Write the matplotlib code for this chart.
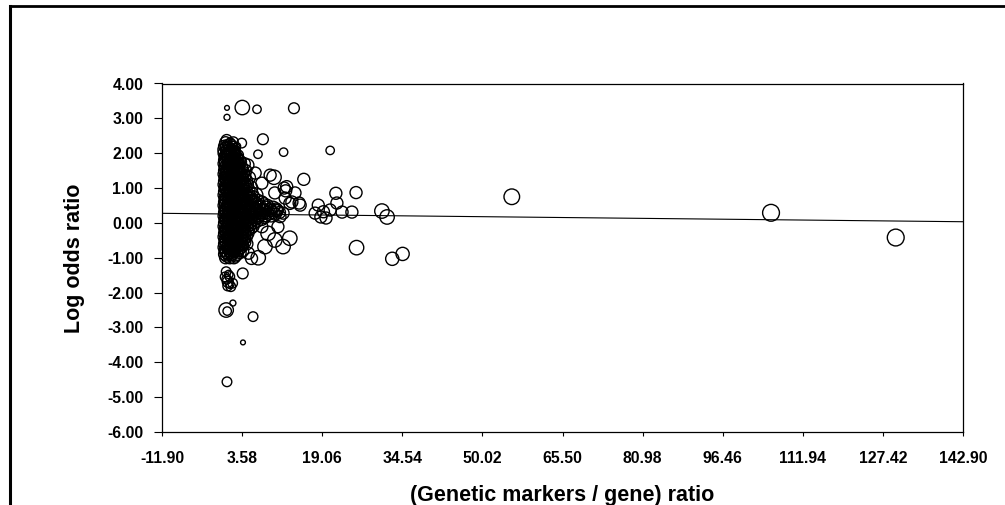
import numpy as np
import matplotlib
matplotlib.use("Agg")
import matplotlib.pyplot as plt
from matplotlib.lines import Line2D

plt.rcParams['font.family'] = ['Liberation Sans', 'DejaVu Sans']
plt.rcParams['font.weight'] = 'bold'

# dense core of studies, one row per log odds level
core_y = [2.30, 2.20, 2.10, 2.00, 1.90, 1.80, 1.70, 1.60, 1.50, 1.40, 1.30,
          1.20, 1.10, 1.00, 0.90, 0.80, 0.70, 0.60, 0.50, 0.40, 0.30, 0.20,
          0.10, 0.00, -0.10, -0.20, -0.30, -0.40, -0.50, -0.60, -0.70, -0.80,
          -0.90, -1.00]
core_x = [
    [0.4, 1.3],
    [0.2, 0.9, 1.8, 2.6],
    [0.3, 1.1, 2.0],
    [0.1, 0.8, 1.5, 2.3],
    [0.3, 1.0, 1.9, 2.8],
    [0.2, 0.9, 1.6, 2.4, 3.3],
    [0.1, 0.7, 1.4, 2.1, 2.9, 4.0],
    [0.3, 1.0, 1.8, 2.6, 3.5],
    [0.2, 0.8, 1.5, 2.3, 3.1, 4.3],
    [0.1, 0.9, 1.7, 2.5, 3.4],
    [0.3, 1.0, 1.8, 2.7, 3.6, 5.0],
    [0.2, 0.8, 1.5, 2.3, 3.2, 4.2],
    [0.1, 0.9, 1.7, 2.6, 3.5, 4.6],
    [0.3, 1.1, 1.9, 2.8, 3.8, 5.2],
    [0.2, 0.8, 1.6, 2.5, 3.4, 4.4],
    [0.1, 1.0, 1.8, 2.7, 3.7, 4.9, 6.2],
    [0.3, 1.1, 2.0, 2.9, 3.9, 5.3],
    [0.2, 0.9, 1.7, 2.6, 3.6, 4.7, 6.0, 7.4],
    [0.1, 0.8, 1.6, 2.5, 3.5, 4.5, 5.7, 7.0, 8.5],
    [0.3, 1.0, 1.9, 2.8, 3.8, 4.9, 6.2, 7.6, 9.0, 10.2],
    [0.2, 0.9, 1.7, 2.6, 3.6, 4.6, 5.8, 7.1, 8.4, 9.6, 10.8],
    [0.1, 0.8, 1.6, 2.5, 3.5, 4.5, 5.6, 6.8, 8.0, 9.2],
    [0.3, 1.1, 1.9, 2.8, 3.8, 4.9, 6.1, 7.4],
    [0.2, 0.9, 1.7, 2.6, 3.6, 4.7, 5.9],
    [0.1, 0.8, 1.6, 2.5, 3.5, 4.6, 5.7],
    [0.3, 1.0, 1.8, 2.7, 3.7, 4.8],
    [0.2, 0.9, 1.7, 2.6, 3.6, 4.7],
    [0.1, 0.8, 1.6, 2.5, 3.5, 4.4],
    [0.3, 1.0, 1.9, 2.8, 3.8],
    [0.2, 0.9, 1.7, 2.6, 3.6, 4.5],
    [0.1, 0.8, 1.6, 2.5, 3.4],
    [0.3, 1.1, 1.9, 2.8, 3.7],
    [0.2, 0.9, 1.7, 2.6],
    [0.4, 1.2, 2.0],
]
core_w = [
    [5, 4],
    [5, 4, 4, 3],
    [6, 5, 4],
    [5, 5, 4, 4],
    [5, 6, 4, 4],
    [5, 5, 5, 4, 4],
    [5, 4, 6, 5, 4, 5],
    [5, 5, 5, 5, 5],
    [5, 6, 4, 5, 5, 5],
    [5, 5, 5, 6, 5],
    [5, 5, 5, 5, 5, 5],
    [5, 6, 5, 5, 5, 6],
    [5, 5, 5, 5, 6, 5],
    [5, 5, 6, 5, 5, 6],
    [5, 5, 5, 5, 5, 5],
    [5, 5, 5, 6, 5, 5, 6],
    [5, 5, 5, 5, 5, 5],
    [5, 5, 5, 5, 5, 5, 5, 5],
    [5, 5, 6, 5, 5, 5, 5, 5, 5],
    [5, 5, 5, 5, 5, 5, 5, 5, 5, 5],
    [5, 5, 5, 5, 5, 6, 5, 5, 5, 5, 5],
    [5, 5, 5, 5, 5, 5, 5, 5, 5, 5],
    [5, 5, 5, 5, 5, 5, 5, 5],
    [5, 5, 5, 6, 5, 5, 5],
    [5, 5, 5, 5, 5, 5, 5],
    [5, 5, 5, 5, 5, 5],
    [5, 6, 5, 5, 5, 5],
    [5, 5, 5, 5, 5, 5],
    [5, 5, 5, 5, 5],
    [5, 5, 5, 5, 5, 5],
    [5, 5, 5, 5, 5],
    [5, 5, 5, 5, 5],
    [5, 5, 5, 5],
    [5, 5, 5],
]

# second layer of the core, between the rows above
core2_y = [2.25, 2.15, 2.05, 1.95, 1.85, 1.75, 1.65, 1.55, 1.45, 1.35, 1.25,
           1.15, 1.05, 0.95, 0.85, 0.75, 0.65, 0.55, 0.45, 0.35, 0.25, 0.15,
           0.05, -0.05, -0.15, -0.25, -0.35, -0.45, -0.55, -0.65, -0.75, -0.85,
           -0.95]
core2_x = [
    [0.7, 1.6],
    [0.5, 1.4, 2.3],
    [0.6, 1.3, 2.1],
    [0.5, 1.3, 2.1, 2.9],
    [0.6, 1.3, 2.0, 2.9],
    [0.4, 1.1, 1.8, 2.6, 3.5],
    [0.6, 1.4, 2.2, 3.0],
    [0.5, 1.2, 1.9, 2.7, 3.6],
    [0.5, 1.3, 2.1, 2.9, 3.8],
    [0.6, 1.4, 2.2, 3.1, 4.1],
    [0.5, 1.2, 2.0, 2.8, 3.7],
    [0.5, 1.3, 2.1, 3.0, 4.0],
    [0.6, 1.5, 2.3, 3.2, 4.3],
    [0.5, 1.2, 2.0, 2.9, 3.9, 4.9],
    [0.5, 1.4, 2.2, 3.1, 4.2, 5.5],
    [0.6, 1.5, 2.4, 3.4, 4.5, 5.8],
    [0.5, 1.3, 2.2, 3.1, 4.1, 5.3, 6.6],
    [0.4, 1.2, 2.0, 3.0, 4.0, 5.1, 6.4, 7.8],
    [0.6, 1.4, 2.3, 3.3, 4.3, 5.5, 6.8, 8.2, 9.6],
    [0.5, 1.3, 2.2, 3.1, 4.1, 5.2, 6.5, 7.8, 9.1, 10.4],
    [0.5, 1.3, 2.1, 3.0, 4.0, 5.1, 6.2, 7.4, 8.7, 10.0],
    [0.6, 1.4, 2.3, 3.3, 4.3, 5.4, 6.6, 7.9],
    [0.5, 1.3, 2.2, 3.1, 4.2, 5.3, 6.5],
    [0.5, 1.2, 2.0, 3.0, 4.1, 5.2],
    [0.6, 1.4, 2.2, 3.1, 4.2, 5.3],
    [0.5, 1.3, 2.1, 3.1, 4.1],
    [0.5, 1.3, 2.1, 3.0, 4.1],
    [0.6, 1.4, 2.2, 3.1, 4.0],
    [0.5, 1.4, 2.3, 3.2, 4.1],
    [0.5, 1.3, 2.1, 3.0, 3.9],
    [0.6, 1.3, 2.1, 3.0],
    [0.5, 1.4, 2.2, 3.2],
    [0.6, 1.4, 2.3],
]
core2_w = [
    [4, 4],
    [5, 4, 4],
    [5, 5, 4],
    [5, 4, 5, 4],
    [4, 5, 5, 4],
    [5, 5, 4, 5, 4],
    [5, 5, 5, 5],
    [4, 5, 5, 5, 5],
    [5, 5, 4, 5, 5],
    [5, 4, 5, 5, 5],
    [5, 5, 5, 4, 5],
    [4, 5, 5, 5, 5],
    [5, 5, 4, 5, 5],
    [5, 5, 5, 5, 4, 5],
    [4, 5, 5, 5, 5, 5],
    [5, 5, 5, 4, 5, 5],
    [5, 4, 5, 5, 5, 5, 5],
    [5, 5, 5, 5, 4, 5, 5, 5],
    [4, 5, 5, 5, 5, 5, 5, 5, 5],
    [5, 5, 4, 5, 5, 5, 5, 5, 5, 5],
    [5, 5, 5, 5, 5, 4, 5, 5, 5, 5],
    [5, 4, 5, 5, 5, 5, 5, 5],
    [5, 5, 5, 4, 5, 5, 5],
    [4, 5, 5, 5, 5, 5],
    [5, 5, 5, 5, 4, 5],
    [5, 4, 5, 5, 5],
    [5, 5, 5, 4, 5],
    [4, 5, 5, 5, 5],
    [5, 5, 4, 5, 5],
    [5, 5, 5, 5, 4],
    [4, 5, 5, 5],
    [5, 5, 4, 5],
    [5, 4, 5],
]

# scattered studies outside the core
spread_x = [0.66, 0.66, 3.62, 6.46, 13.6, 7.6, 3.5, 6.65, 11.6, 20.6,
            15.5, 9.75, 11.7, 12.0, 14.6, 13.2, 21.7, 25.6, 22.9, 24.8,
            17.7, 18.8, 19.8, 20.6, 21.9, 18.3, 19.3, 30.6, 31.6, 25.7,
            32.6, 34.6, 55.7, 105.8, 129.9,
            4.7, 6.1, 7.4, 9.0, 12.2, 13.8, 9.9, 14.8, 10.3, 11.5, 10.9, 12.8, 11.9,
            8.6, 9.9, 12.8, 11.5, 8.0, 6.7, 4.8, 10.5, 7.4, 5.4, 3.7,
            0.5, 1.2, 0.8, 1.75, 1.4, 0.8, 1.2, 0.3, 0.6, 1.0,
            0.5, 0.7, 1.8, 5.7, 3.75, 0.66,
            0.6, 1.9, 0.3, 2.5]
spread_y = [3.30, 3.03, 3.31, 3.26, 3.29, 2.40, 2.29, 1.97, 2.03, 2.08,
            1.25, 1.31, 1.00, 0.92, 0.57, 0.60, 0.85, 0.87, 0.31, 0.31,
            0.28, 0.17, 0.14, 0.37, 0.57, 0.51, 0.32, 0.34, 0.17, -0.71,
            -1.03, -0.89, 0.75, 0.29, -0.42,
            1.66, 1.43, 1.14, 1.37, 1.04, 0.86, 0.86, 0.51, 0.37, 0.28, 0.18, 0.56, 0.71,
            -0.30, -0.49, -0.44, -0.68, -0.68, -1.00, -0.87, -0.11, -0.11, -1.02, -1.45,
            -1.40, -1.54, -1.69, -1.73, -1.83, -1.81, -1.76, -1.55, -1.62, -1.48,
            -2.50, -2.53, -2.30, -2.69, -3.43, -4.56,
            2.38, 2.33, 2.19, 2.04]
spread_w = [2, 2.5, 6, 3.5, 4.5, 4.5, 4, 3.5, 3.5, 3.5,
            5, 6, 5, 5, 5, 5, 5, 5, 5, 5,
            5, 5, 5, 5, 5, 5, 5, 6, 6, 6,
            5.5, 5.5, 6.5, 7, 7,
            5, 5, 5, 5, 5, 5, 5, 5, 5, 5, 5, 5, 5,
            6, 6, 6, 6, 6, 6, 5, 5, 5, 5, 4.5,
            4, 4, 4.5, 4, 4, 4, 3.5, 4, 4, 3.5,
            6, 3.5, 2.5, 4, 2, 4,
            4.5, 4, 4, 3.5]

# fitted meta-regression line
fit_intercept = 0.2565
fit_slope = -0.00156

x_ticks = [-11.90, 3.58, 19.06, 34.54, 50.02, 65.50, 80.98, 96.46, 111.94, 127.42, 142.90]
y_ticks = [-6, -5, -4, -3, -2, -1, 0, 1, 2, 3, 4]

xs, ys, ws = [], [], []
for rows_y, rows_x, rows_w in [(core_y, core_x, core_w), (core2_y, core2_x, core2_w)]:
    for yv, row_x, row_w in zip(rows_y, rows_x, rows_w):
        xs += row_x
        ys += [yv] * len(row_x)
        ws += row_w
xs += spread_x
ys += spread_y
ws += spread_w
ws = np.array(ws)

fig = plt.figure(figsize=(10.05, 5.05), dpi=100)
ax = fig.add_axes([162 / 1005, 73 / 505, 801 / 1005, 348.5 / 505])

ax.scatter(xs, ys, s=(1.73 * ws) ** 2, facecolors='none', edgecolors='black', linewidths=1.0)

lx = np.array([x_ticks[0], x_ticks[-1]])
ax.plot(lx, fit_intercept + fit_slope * lx, color='black', lw=0.8)

ax.set_xlim(x_ticks[0], x_ticks[-1])
ax.set_ylim(-6, 4)
ax.set_xticks(x_ticks)
ax.set_xticklabels([f'{v:.2f}' for v in x_ticks])
ax.set_yticks(y_ticks)
ax.set_yticklabels([f'{v:.2f}' for v in y_ticks])
ax.tick_params(axis='y', direction='out', length=5.5, width=0.8, pad=8, labelsize=11.3)
ax.tick_params(axis='x', direction='out', length=3, width=0.8, pad=11, labelsize=11.3)
for lab in ax.get_xticklabels() + ax.get_yticklabels():
    lab.set_fontweight('bold')
for sp in ax.spines.values():
    sp.set_linewidth(0.9)

fig.text(74 / 1005, 1 - 258 / 505, 'Log odds ratio', rotation=90, ha='center', va='center',
         fontsize=15.5, fontweight='bold')
fig.text(562.5 / 1005, 1 - 500.5 / 505, '(Genetic markers / gene) ratio', ha='center',
         va='baseline', fontsize=15.5, fontweight='bold')

# page frame around the chart
fig.add_artist(Line2D([10 / 1005, 1], [1 - 6 / 505, 1 - 6 / 505], color='black', lw=2))
fig.add_artist(Line2D([10 / 1005, 10 / 1005], [0, 1 - 6 / 505], color='black', lw=2.2))

fig.savefig('out.png', dpi=100)
